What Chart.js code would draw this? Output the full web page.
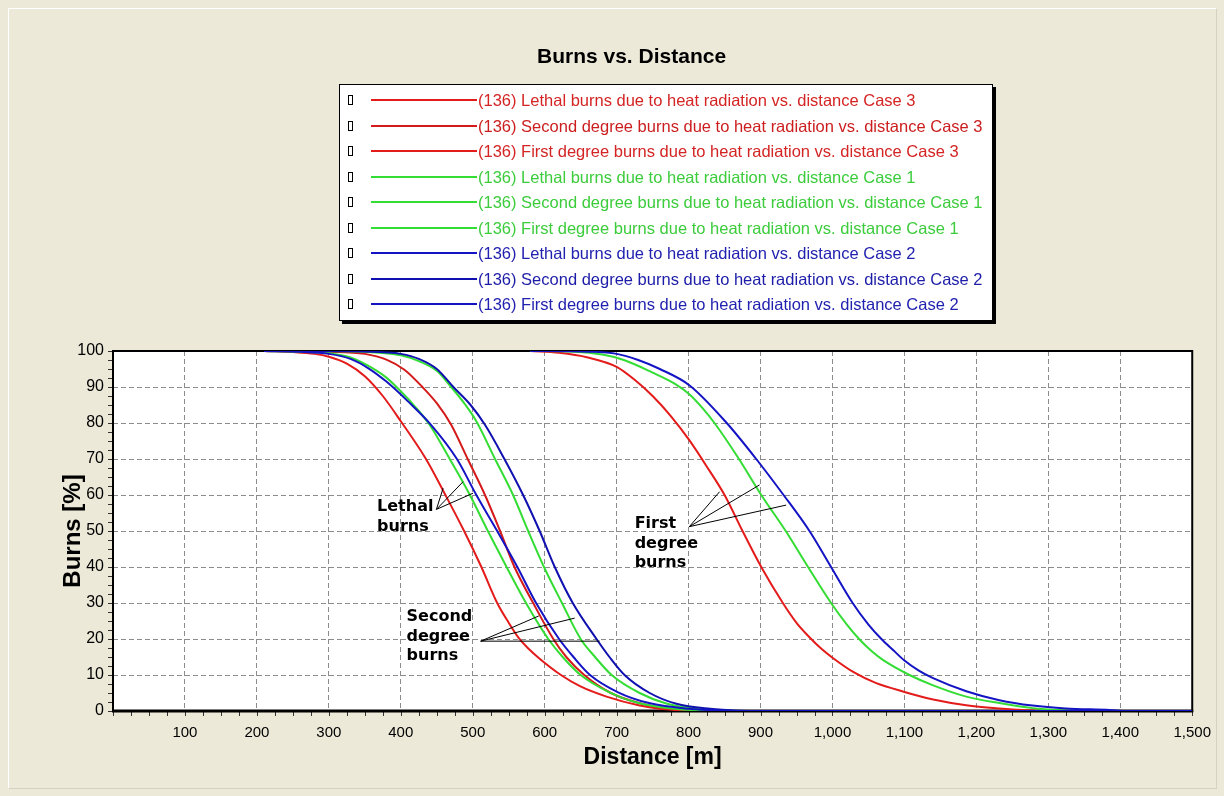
<!DOCTYPE html>
<html><head><meta charset="utf-8">
<script src="https://cdn.jsdelivr.net/npm/chart.js@4.4.1/dist/chart.umd.min.js"></script>
<style>
html,body{margin:0;padding:0;background:#ece9d8;}
body{width:1224px;height:796px;position:relative;overflow:hidden;font-family:'Liberation Sans',Arial,sans-serif;}
#panel{position:absolute;left:8px;top:8px;width:1207px;height:779px;border-left:1px solid #fff;border-top:1px solid #fff;border-right:1px solid #d6d2c2;border-bottom:1px solid #d6d2c2;}
#cv{position:absolute;left:0;top:0;}
#title{position:absolute;left:537px;top:44px;font-weight:bold;font-size:21px;line-height:24px;color:#000;white-space:nowrap;}
#legend{position:absolute;left:339px;top:84px;width:652px;height:235px;background:#fff;border:1px solid #000;box-shadow:3px 3px 0 #000;}
.row{position:absolute;left:0;height:20px;width:100%;}
.mk{position:absolute;left:8px;top:5px;width:3px;height:8px;border:1px solid #000;}
.ln{position:absolute;left:31px;width:106px;top:9px;height:2px;}
.tx{position:absolute;left:138px;top:0;font-size:16.5px;line-height:20px;white-space:nowrap;}
</style></head>
<body>
<div id="panel"></div>
<canvas id="cv" width="1224" height="796"></canvas>
<div id="title">Burns vs. Distance</div>
<div id="legend"></div>
<script>
// ---- data: [distance m, burns %] ----
const lethalCase3 = [[210,100],[250,99.7],[280,99.2],[300,98.4],[325,96.5],[350,93],[375,87.5],[400,80.5],[435,70],[462,60],[488,50],[512,40],[534,30],[550,24.5],[563,20.5],[578,17.2],[593,14.5],[621,10.2],[649,6.9],[686,4],[732,1.5],[760,0.6],[800,0.1],[830,0],[1500,0]];
const secondCase3 = [[210,100],[300,99.8],[350,99.2],[380,97.6],[405,94.8],[430,90],[450,85.5],[470,79.5],[493,70],[517,60],[538,50],[558,40],[584,30],[612,20],[630,15],[655,10],[692,5],[735,2],[775,0.6],[810,0.1],[840,0],[1500,0]];
const firstCase3 = [[580,100],[620,99.5],[660,98.2],[700,95.6],[725,92],[750,87.5],[775,82],[800,75.5],[825,68],[850,60],[875,50],[901,40],[931,30],[950,24.5],[968,20.5],[985,17.2],[1000,14.8],[1030,10.7],[1060,7.8],[1100,5.3],[1140,3.2],[1186,1.6],[1232,0.7],[1270,0.2],[1300,0],[1500,0]];
const lethalCase1 = [[210,100],[260,99.8],[300,99.4],[330,98.2],[360,95.3],[380,92.6],[400,88.8],[420,84.5],[440,79.5],[468,70],[496,60],[521,50],[547,40],[574,30],[605,20],[625,15],[650,10],[690,5.2],[730,2.2],[780,0.6],[830,0.1],[860,0],[1500,0]];
const secondCase1 = [[210,100],[320,99.9],[370,99.5],[400,98.8],[425,97.2],[450,94.5],[470,90],[490,85],[505,80.5],[531,70],[556,60],[577,50],[599,40],[624,30],[650,20],[670,15],[693,10],[732,5],[770,2],[810,0.6],[850,0.1],[880,0],[1500,0]];
const firstCase1 = [[580,100],[640,99.8],[680,99],[710,97.5],[750,94],[780,91],[801,88],[820,84],[836,80],[870,70],[901,60],[935,50],[966,40],[998,30],[1020,24],[1037,20],[1055,16.5],[1070,14.2],[1107,10],[1139,7.2],[1186,4],[1232,2.2],[1278,0.8],[1320,0.2],[1350,0],[1500,0]];
const lethalCase2 = [[210,100],[260,99.8],[300,99.2],[330,97.8],[355,95.2],[380,91.5],[410,86],[442,79.5],[478,70],[505,60],[534,50],[562,40],[588,30],[620,20],[640,15],[663,10],[702,5.2],[745,2.2],[800,0.6],[850,0.1],[880,0],[1500,0]];
const secondCase2 = [[210,100],[330,99.9],[380,99.6],[400,99.2],[425,97.8],[450,95],[473,90],[497,85],[517,79.5],[544,70],[570,60],[593,50],[614,40],[639,30],[672,20],[690,15],[711,10],[746,5],[783,2],[830,0.6],[870,0.1],[900,0],[1500,0]];
const firstCase2 = [[580,100],[660,99.8],[700,99.2],[730,97.5],[760,95],[801,90.5],[853,80],[894,70],[932,60],[968,50],[998,40],[1028,30],[1050,24],[1068,20],[1085,16.8],[1100,14],[1120,11.2],[1139,9.2],[1186,5.5],[1232,3],[1278,1.5],[1324,0.7],[1385,0.3],[1410,0],[1500,0]];

const seriesNames = [
 '(136) Lethal burns due to heat radiation vs. distance Case 3',
 '(136) Second degree burns due to heat radiation vs. distance Case 3',
 '(136) First degree burns due to heat radiation vs. distance Case 3',
 '(136) Lethal burns due to heat radiation vs. distance Case 1',
 '(136) Second degree burns due to heat radiation vs. distance Case 1',
 '(136) First degree burns due to heat radiation vs. distance Case 1',
 '(136) Lethal burns due to heat radiation vs. distance Case 2',
 '(136) Second degree burns due to heat radiation vs. distance Case 2',
 '(136) First degree burns due to heat radiation vs. distance Case 2'
];
const seriesData = [lethalCase3, secondCase3, firstCase3, lethalCase1, secondCase1, firstCase1, lethalCase2, secondCase2, firstCase2];
const lineColors = ['#e31b1b','#d41a1a','#e31b1b','#33dd33','#33dd33','#33dd33','#1414c4','#1010b0','#1414c4'];
const textColors = ['#d42424','#cc1e1e','#d42424','#3ccc3c','#3ccc3c','#3ccc3c','#2222b0','#1c1ca8','#2222b0'];
const drawOrder = [2,2,2,1,1,1,0,0,0];

const xTickMax = 1500, xStep = 100, yTickMax = 100, yStep = 10;

// annotations (data units)
const noteTexts = [['Lethal','burns'],['Second','degree','burns'],['First','degree','burns']];
const noteAnchors = [[367,56.7],[408,26.1],[725,51.9]];
const noteOrigins = [[449.5,56.0],[511,19.4],[801,51.2]];
const noteTips = [[[458.8,61.9],[486.6,63.7],[500.4,60.5]],[[591.7,26.4],[641.7,25.8],[676.4,19.4]],[[843,60.9],[898.6,62.8],[935.6,57.2]]];

// ---- legend ----
const lg = document.getElementById('legend');
seriesNames.forEach((n,i)=>{
  const r = document.createElement('div'); r.className='row'; r.style.top = (5 + i*25.5) + 'px';
  r.innerHTML = '<div class="mk"></div><div class="ln" style="background:'+lineColors[i]+'"></div><div class="tx" style="color:'+textColors[i]+'"></div>';
  r.querySelector('.tx').textContent = n;
  lg.appendChild(r);
});

const deco = {
  id:'deco',
  beforeDraw(chart){
    const {ctx, chartArea:a} = chart;
    ctx.save(); ctx.fillStyle='#fff'; ctx.fillRect(a.left,a.top,a.right-a.left,a.bottom-a.top); ctx.restore();
  },
  beforeDatasetsDraw(chart){
    const {ctx, chartArea:a, scales:{x,y}} = chart;
    ctx.save();
    ctx.strokeStyle='#333'; ctx.lineWidth=1;
    ctx.beginPath();
    for(let v=0; v<=xTickMax; v+=xStep/4){ const px=Math.round(x.getPixelForValue(v))+0.5; ctx.moveTo(px,a.bottom); ctx.lineTo(px,a.bottom+5); }
    for(let v=0; v<=yTickMax; v+=yStep/4){ const py=Math.round(y.getPixelForValue(v))+0.5; ctx.moveTo(a.left-5,py); ctx.lineTo(a.left,py); }
    ctx.stroke();
    ctx.strokeStyle='#000';
    ctx.lineWidth=2; ctx.strokeRect(a.left,a.top,a.right-a.left,a.bottom-a.top);
    ctx.lineWidth=3; ctx.beginPath(); ctx.moveTo(a.left-1,a.bottom); ctx.lineTo(a.right+1,a.bottom); ctx.stroke();
    ctx.restore();
  },
  afterDatasetsDraw(chart){
    const {ctx, scales:{x,y}} = chart;
    ctx.save();
    ctx.fillStyle='#000'; ctx.font='bold 16px "DejaVu Sans"'; ctx.textBaseline='middle'; ctx.textAlign='left';
    noteTexts.forEach((lines,i)=>{
      const px=x.getPixelForValue(noteAnchors[i][0]), py=y.getPixelForValue(noteAnchors[i][1]);
      lines.forEach((t,k)=>ctx.fillText(t,px,py+k*19.5));
      ctx.strokeStyle='#000'; ctx.lineWidth=1; ctx.beginPath();
      const ox=x.getPixelForValue(noteOrigins[i][0]), oy=y.getPixelForValue(noteOrigins[i][1]);
      noteTips[i].forEach(t=>{ ctx.moveTo(ox,oy); ctx.lineTo(x.getPixelForValue(t[0]), y.getPixelForValue(t[1])); });
      ctx.stroke();
    });
    ctx.restore();
  }
};

new Chart(document.getElementById('cv'), {
  type:'line',
  data:{ datasets: seriesData.map((d,i)=>({
    label: seriesNames[i],
    data: d.map(p=>({x:p[0], y:p[1]})),
    borderColor: lineColors[i], backgroundColor: lineColors[i],
    borderWidth:2, pointRadius:0, fill:false,
    cubicInterpolationMode:'monotone', order: drawOrder[i]
  }))},
  options:{
    responsive:false, animation:false, devicePixelRatio:1,
    layout:{ padding:{ left:55, top:351, right:31, bottom:21 } },
    plugins:{ legend:{display:false}, tooltip:{enabled:false}, title:{display:false} },
    scales:{
      x:{ type:'linear', min:0, max:xTickMax,
        afterFit(s){ s.height = 64; },
        ticks:{ stepSize:xStep, autoSkip:false, maxRotation:0, padding:13, color:'#000',
          font:{family:'Liberation Sans', size:15},
          callback:v => v===0 ? '' : v.toLocaleString('en-US') },
        grid:{ drawTicks:false, lineWidth:1, color: c => (c.tick && c.tick.value>0 && c.tick.value<xTickMax) ? '#8c8c8c' : 'rgba(0,0,0,0)' },
        border:{ display:false, dash:[5,3] },
        title:{ display:true, text:'Distance [m]', color:'#000', font:{family:'Liberation Sans', size:23, weight:'bold'}, padding:{top:4,bottom:4} }
      },
      y:{ min:0, max:yTickMax,
        afterFit(s){ s.width = 58; },
        ticks:{ stepSize:yStep, padding:9, color:'#000', font:{family:'Liberation Sans', size:16} },
        grid:{ drawTicks:false, lineWidth:1, color: c => (c.tick && c.tick.value>0 && c.tick.value<yTickMax) ? '#8c8c8c' : 'rgba(0,0,0,0)' },
        border:{ display:false, dash:[5,3] },
        title:{ display:true, text:'Burns [%]', color:'#000', font:{family:'Liberation Sans', size:24, weight:'bold'}, padding:{top:4,bottom:4} }
      }
    }
  },
  plugins:[deco]
});
</script>
</body></html>
